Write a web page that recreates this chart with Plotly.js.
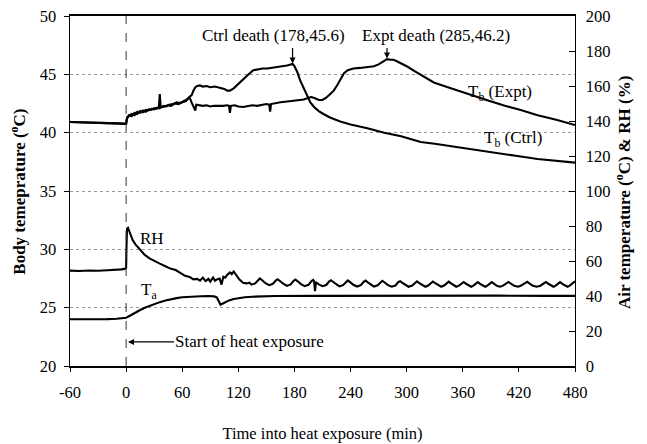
<!DOCTYPE html>
<html><head><meta charset="utf-8">
<script src="https://cdn.plot.ly/plotly-3.0.1.min.js"></script>
<style>html,body{margin:0;padding:0;background:#fff}</style>
</head><body><div id="chart" style="width:647px;height:444px"></div>
<script>
// Body temperature, control animal [time (min), Tb (°C)]
const tbCtrl = [[-60,40.92],[-50,40.88],[-40,40.85],[-30,40.86],[-20,40.82],[-10,40.8],[-1,40.76],[0,40.76],
[1,41.3],[3,41.5],[6,41.4],[9,41.7],[12,41.6],[15,41.85],[18,41.75],[21,41.95],[24,41.9],[27,42.05],
[30,42.0],[33,42.15],[35,42.1],[36,43.3],[37,42.15],[40,42.3],[43,42.25],[46,42.4],[50,42.45],[54,42.6],
[58,42.55],[62,42.75],[65,42.85],[68,43.1],[70,43.2],[72,43.6],[74,43.9],[76,44.0],[79,44.05],[82,43.95],
[86,44.0],[90,43.9],[95,43.95],[100,43.85],[105,43.75],[108,43.6],[111,43.6],[115,43.8],[120,44.2],[126,44.6],
[131,45.0],[136,45.35],[141,45.45],[146,45.5],[151,45.5],[156,45.55],[161,45.6],[166,45.65],[172,45.75],[176,45.85],
[178,45.9],[180,45.7],[183,45.2],[186,44.5],[190,43.8],[194,43.2],[197,42.6],[201,42.2],[206,41.85],[211,41.6],
[218,41.3],[229,40.95],[240,40.7],[258,40.37],[276,40.0],[294,39.7],[315,39.2],[330,39.05],[350,38.8],[370,38.6],
[387,38.4],[405,38.15],[422,37.95],[440,37.75],[460,37.6],[480,37.43]];

// Body temperature, experimental animal
const tbExpt = [[-60,40.92],[-50,40.88],[-40,40.85],[-30,40.86],[-20,40.82],[-10,40.8],[-1,40.76],[0,40.76],
[1,41.2],[3,41.45],[6,41.6],[9,41.5],[12,41.8],[15,41.7],[18,41.9],[21,41.8],[24,42.0],[27,41.95],
[30,42.1],[33,42.05],[36,42.2],[40,42.2],[44,42.35],[48,42.3],[52,42.5],[56,42.45],[60,42.6],[64,42.7],
[66,42.9],[68,43.0],[70,42.6],[72,42.3],[74,41.9],[75,42.4],[78,42.35],[82,42.3],[86,42.35],[90,42.25],
[94,42.3],[98,42.28],[104,42.3],[108,42.35],[110,42.3],[111,41.7],[112,42.3],[116,42.35],[120,42.25],[125,42.2],
[130,42.3],[135,42.35],[140,42.3],[145,42.4],[150,42.45],[153,42.4],[154,41.8],[155,42.45],[160,42.55],[165,42.6],
[170,42.65],[175,42.7],[180,42.75],[185,42.8],[190,42.85],[195,43.0],[198,43.05],[202,42.95],[206,42.8],[210,42.8],
[214,43.0],[218,43.3],[222,43.6],[226,44.1],[230,44.7],[233,45.1],[237,45.35],[243,45.5],[250,45.55],[258,45.6],
[265,45.7],[270,45.85],[275,46.1],[279,46.3],[283,46.25],[286,46.25],[290,46.1],[295,45.9],[301,45.65],[308,45.3],
[315,44.95],[322,44.6],[329,44.3],[340,44.0],[350,43.75],[360,43.45],[370,43.2],[387,42.75],[405,42.3],[422,41.95],
[440,41.5],[460,41.1],[480,40.66]];

// Relative humidity (%)
const rh = [[-60,54.5],[-50,54.3],[-40,54.6],[-30,54.4],[-20,54.7],[-10,54.9],[-5,55.2],[-2,55.5],[0,56],[0.5,70],
[1,78.5],[2,79],[4,76],[7,72],[10,69.5],[15,66.3],[20,63.5],[25,61.5],[30,60],[36,58.5],[42,57],[48,55.5],
[53,54.8],[58,53],[63,51.5],[68,50.8],[72,49.5],[76,49.8],[79,48.8],[82,50.5],[85,48.5],[88,49.8],[90,48.2],
[93,50.6],[95,48.7],[97,49.5],[100,50],[102,46.5],[104,51],[106,50.5],[108,52],[111,53.5],[113,52.5],[115,54],
[118,52],[121,49.5],[125,47.6],[129,47.2],[132,47.6],
[134,46.5],[138,47.2],[141,49],[143,50],[145.5,49],[149,47.3],[153,46.2],[157,47],[160,48.8],[162,49.6],
[164.5,48.6],[168,47],[172,45.8],[176,46.6],[179,48.6],[181,49.4],[183.5,48.4],[187,46.8],[191,45.6],[195,46.4],
[198,48.4],[200,49.2],[201,48.5],[202,42.8],[203,48],[206,46.6],[210,45.6],[214,46.3],[217,48.3],[219,49],
[221.5,48],[225,46.5],[228,45.5],[232,46.2],[235,48.2],[237,48.9],[239.5,47.9],[243,46.4],[247,45.4],[251,46.2],
[254,48.1],[256,48.8],[258.5,47.8],[262,46.3],[265,45.4],[269,46.1],[272,48],[274,48.7],[276.5,47.7],[280,46.2],
[284,45.3],[288,46],[291,47.9],[293,48.5],[295.5,47.5],[299,46.1],[302,45.3],[306,46],[309,47.8],[311,48.4],
[313.5,47.4],[317,46],[320,45.3],[323,46],[326,47.7],[328,48.3],[330.5,47.3],[334,46],[337,45.3],[340,46],
[343,47.6],[345,48.2],[347.5,47.2],[351,45.9],[353,45.3],[356,45.9],[359,47.5],[361,48],[363.5,47],[367,45.8],
[369,45.3],[371,45.8],[374,47.3],[376,47.9],[378.5,46.9],[382,45.7],[384,45.3],[386,45.8],[389,47.3],[391,47.9],
[393.5,46.9],[397,45.7],[400,45.3],[403,45.9],[407,47.4],[409,48],[411.5,47],[415,45.8],[419,45.3],[422,45.9],
[427,47.5],[429,48.1],[431.5,47.1],[435,45.8],[439,45.3],[443,45.9],[447,47.4],[449,48],[451.5,47],[455,45.8],
[457,45.3],[459,45.8],[462,47.3],[464,47.9],[466.5,46.9],[470,45.7],[472,45.3],[474,45.8],[477,47.4],[479,48.2],[480,48.4]];

// Air temperature (°C)
const ta = [[-60,26.7],[-40,26.6],[-20,26.8],[-10,27.0],[-3,27.3],[0,27.6],[5,29],[10,30.6],[15,32],[20,33.3],
[25,34.4],[30,35.4],[36,36.5],[42,37.4],[48,38.2],[54,38.8],[60,39.3],[66,39.6],[72,39.8],[80,39.9],[88,40],
[94,39.8],[97,39.2],[99,37.0],[101,35.0],[103,35.6],[106,36.6],[110,37.5],[115,38.3],[120,38.8],[127,39.3],
[135,39.6],[145,39.8],[160,40],[200,40.1],[250,40.2],[300,40.2],[350,40.1],[400,40.2],[450,40.1],[480,40.1]];

const xTicks = [-60,0,60,120,180,240,300,360,420,480];
const xTickText = ['-60','0','60','120','180','240','300','360','420','480'];
const leftTicks = [20,25,30,35,40,45,50];
const rightTicks = [0,20,40,60,80,100,120,140,160,180,200];

const FONT = 'Liberation Serif, Times New Roman, serif';
const col = (a,i) => a.map(p => p[i]);
const lineStyle = {color:'#000', width:2.1};

const traces = [
  {x:col(tbCtrl,0), y:col(tbCtrl,1), mode:'lines', line:lineStyle, name:'Tb (Ctrl)', yaxis:'y'},
  {x:col(tbExpt,0), y:col(tbExpt,1), mode:'lines', line:lineStyle, name:'Tb (Expt)', yaxis:'y'},
  {x:col(rh,0), y:col(rh,1), mode:'lines', line:lineStyle, name:'RH', yaxis:'y2'},
  {x:col(ta,0), y:col(ta,1), mode:'lines', line:lineStyle, name:'Ta', yaxis:'y2'}
];

const txt = (x,y,text,extra) => Object.assign({x:x, y:y, xref:'x', yref:'y', text:text, showarrow:false,
  font:{family:FONT, size:17, color:'#000'}}, extra||{});
const arr = (x,y,ax,ay) => ({x:x, y:y, xref:'x', yref:'y', text:'', showarrow:true, ax:ax, ay:ay,
  arrowhead:2, arrowsize:1, arrowwidth:1.2, arrowcolor:'#000'});

const layout = {
  width:647, height:444,
  margin:{l:70, r:72, t:16, b:78},
  paper_bgcolor:'#fff', plot_bgcolor:'#fff',
  showlegend:false,
  font:{family:FONT, size:16, color:'#000'},
  xaxis:{range:[-60,480], tickvals:xTicks, ticktext:xTickText, ticks:'outside', ticklen:4, tickwidth:1, tickcolor:'#000',
    showline:true, linecolor:'#000', linewidth:1.6, mirror:true, showgrid:false, zeroline:false,
    tickfont:{family:FONT, size:16.5}, ticklabelstandoff:7,
    title:{text:'Time into heat exposure (min)', font:{family:FONT, size:16.5}, standoff:26}},
  yaxis:{range:[20,50], tickvals:leftTicks, ticks:'outside', ticklen:5, tickwidth:1, tickcolor:'#000',
    showline:true, linecolor:'#000', linewidth:1.4, showgrid:true, gridcolor:'#9a9a9a', griddash:'dot', gridwidth:1,
    zeroline:false, tickfont:{family:FONT, size:16.5}, ticklabelstandoff:4},
  yaxis2:{range:[0,200], tickvals:rightTicks, overlaying:'y', side:'right', ticks:'inside', ticklen:6, tickwidth:1,
    tickcolor:'#000', showline:true, linecolor:'#000', linewidth:1.4, showgrid:false, zeroline:false,
    tickfont:{family:FONT, size:16.5}, ticklabelstandoff:6},
  shapes:[{type:'line', xref:'x', yref:'paper', x0:0, x1:0, y0:0, y1:1,
    line:{color:'#333', width:1, dash:'dash'}}],
  annotations:[
    {xref:'paper', yref:'paper', x:-0.103, y:0.498, xanchor:'center', yanchor:'middle', textangle:-90, showarrow:false,
      text:'<b>Body temeprature (<sup>o</sup>C)</b>', font:{family:FONT, size:17, color:'#000'}},
    {xref:'paper', yref:'paper', x:1.095, y:0.497, xanchor:'center', yanchor:'middle', textangle:-90, showarrow:false,
      text:'<b>Air temperature (<sup>o</sup>C) &amp; RH (%)</b>', font:{family:FONT, size:17, color:'#000'}},
    txt(157.5, 48.29, 'Ctrl death (178,45.6)'),
    txt(331.6, 48.29, 'Expt death (285,46.2)'),
    arr(178, 45.92, 0, -17),
    arr(279, 46.35, 0, -12),
    txt(399.6, 43.4, 'T<sub>b</sub> (Expt)'),
    txt(413.6, 39.46, 'T<sub>b</sub> (Ctrl)'),
    txt(27.9, 30.97, 'RH'),
    txt(24.6, 26.43, 'T<sub>a</sub>'),
    {x:2, y:22.06, xref:'x', yref:'y', text:'Start of heat exposure', showarrow:true, ax:122, ay:0,
      arrowhead:2, arrowsize:1, arrowwidth:1.2, arrowcolor:'#000', font:{family:FONT, size:17, color:'#000'}}
  ]
};

Plotly.newPlot('chart', traces, layout, {displayModeBar:false, staticPlot:true});
</script>
</body></html>
